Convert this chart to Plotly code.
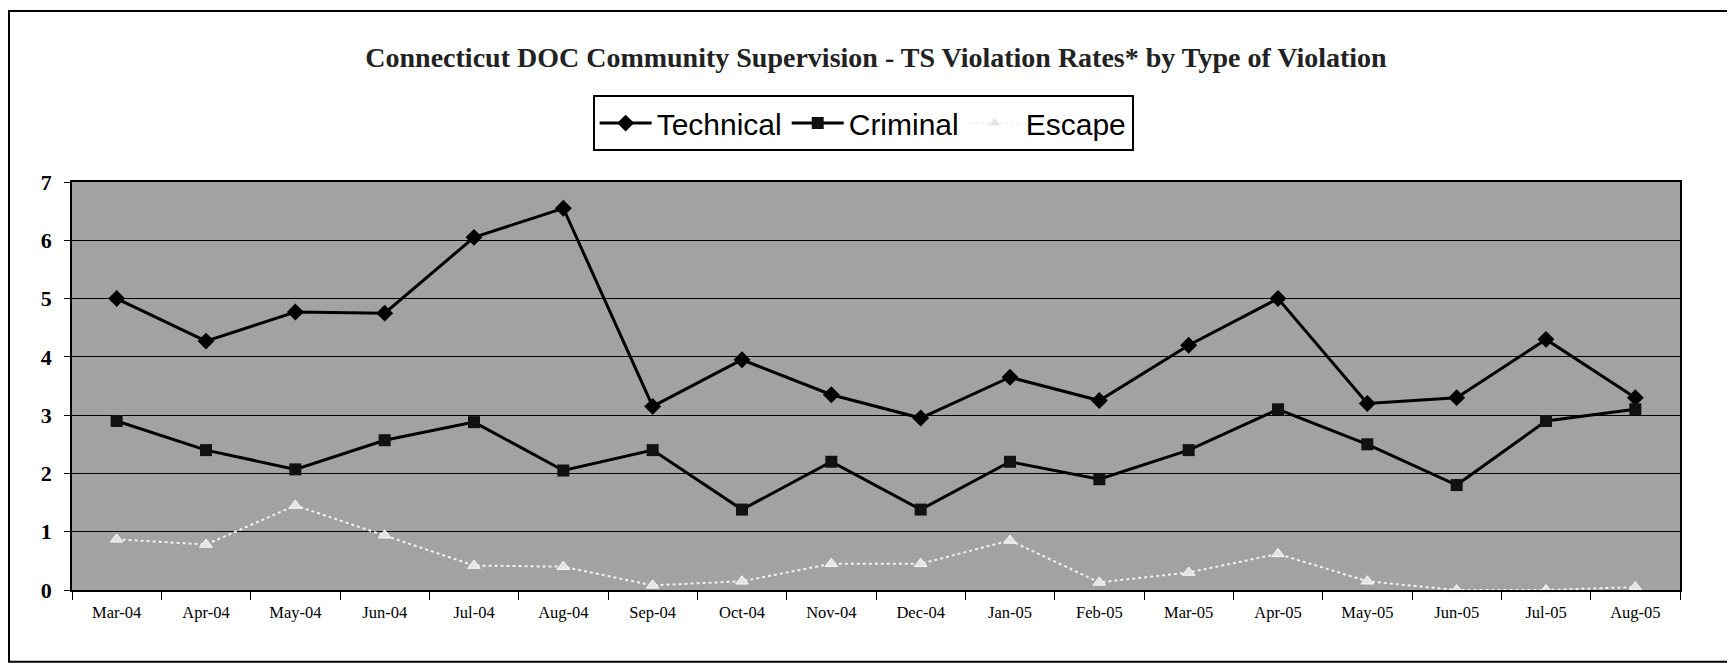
"Connecticut DOC community supervision - TS violation rates by type of violation."

import plotly.graph_objects as go

months = [
    "Mar-04", "Apr-04", "May-04", "Jun-04", "Jul-04", "Aug-04",
    "Sep-04", "Oct-04", "Nov-04", "Dec-04", "Jan-05", "Feb-05",
    "Mar-05", "Apr-05", "May-05", "Jun-05", "Jul-05", "Aug-05",
]
technical = [5.0, 4.27, 4.77, 4.75, 6.05, 6.55, 3.15, 3.95, 3.35, 2.95, 3.65, 3.25,
             4.2, 5.0, 3.2, 3.3, 4.3, 3.3]
criminal = [2.9, 2.4, 2.07, 2.57, 2.88, 2.05, 2.4, 1.38, 2.2, 1.38, 2.2, 1.9,
            2.4, 3.1, 2.5, 1.8, 2.9, 3.1]
escape = [0.87, 0.78, 1.45, 0.94, 0.42, 0.4, 0.08, 0.15, 0.45, 0.45, 0.85, 0.13,
          0.3, 0.62, 0.15, 0.0, 0.0, 0.05]
y_ticks = [0, 1, 2, 3, 4, 5, 6, 7]

serif = "Liberation Serif"
sans = "Liberation Sans"

fig = go.Figure()
fig.add_scatter(
    x=months, y=technical, name="Technical", mode="lines+markers",
    line={"color": "black", "width": 3},
    marker={"symbol": "diamond", "size": 13, "color": "black"},
)
fig.add_scatter(
    x=months, y=criminal, name="Criminal", mode="lines+markers",
    line={"color": "black", "width": 3},
    marker={"symbol": "square", "size": 12, "color": "#111111"},
)
fig.add_scatter(
    x=months, y=escape, name="Escape", mode="lines+markers",
    line={"color": "#f2f2f2", "width": 2, "dash": "dot"},
    marker={"symbol": "triangle-up", "size": 11, "color": "#e4e4e4",
            "line": {"color": "#fafafa", "width": 1}},
    cliponaxis=False,
)

# outer frame of the scanned sheet
fig.add_shape(
    type="rect", xref="paper", yref="paper",
    x0=-0.0392, x1=1.0323, y0=-0.176, y1=1.419,
    line={"color": "black", "width": 2}, layer="below",
)

# page body keeps its default 8px margin, so the figure is sized to the rest
fig.update_layout(
    width=1727,
    height=662,
    margin={"l": 64, "r": 55, "t": 174, "b": 80},
    paper_bgcolor="white",
    plot_bgcolor="#a2a2a2",
    title={
        "text": "<b>Connecticut DOC Community Supervision - TS Violation Rates* by Type of Violation</b>",
        "x": 0.5026, "xanchor": "center", "y": 0.925, "yanchor": "middle",
        "font": {"family": serif, "size": 28, "color": "#222222"},
    },
    legend={
        "orientation": "h", "x": 0.492, "xanchor": "center",
        "y": 1.213, "yanchor": "top",
        "bordercolor": "black", "borderwidth": 2, "bgcolor": "white",
        "font": {"family": sans, "size": 30, "color": "black"},
        "itemwidth": 52,
    },
    showlegend=True,
)
fig.update_xaxes(
    type="category",
    range=[-0.5, len(months) - 0.5],
    tickson="boundaries",
    ticks="outside", ticklen=8, tickcolor="black",
    ticklabelstandoff=6,
    showline=True, linecolor="black", linewidth=1.5, mirror=True,
    showgrid=False,
    tickfont={"family": serif, "size": 16.5, "color": "black"},
)
fig.update_yaxes(
    range=[0, 7], tickvals=y_ticks,
    ticktext=[f"<b>{v}</b>" for v in y_ticks],
    ticks="outside", ticklen=6, tickcolor="black",
    ticklabelstandoff=8,
    showline=True, linecolor="black", linewidth=1.5, mirror=True,
    showgrid=True, gridcolor="black", gridwidth=1,
    zeroline=False,
    tickfont={"family": serif, "size": 22, "color": "black"},
)

fig.write_html("out.html")
